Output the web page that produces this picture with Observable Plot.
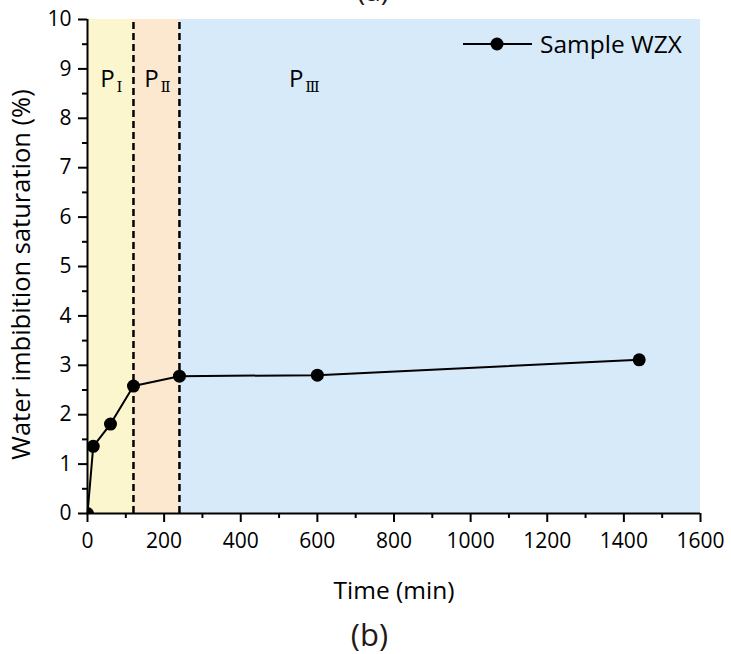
<!DOCTYPE html>
<html>
<head>
<meta charset="utf-8">
<script src="https://cdn.jsdelivr.net/npm/d3@7"></script>
<script src="https://cdn.jsdelivr.net/npm/@observablehq/plot@0.6"></script>
<style>
  html, body { margin: 0; padding: 0; background: #fff; }
  #wrap { position: relative; width: 731px; height: 654px; overflow: hidden; font-family: "Open Sans", sans-serif; }
  #caption { position: absolute; left: 0; top: 612px; width: 731px; text-align: center; font-size: 31px; line-height: 44px; padding-left: 8px; box-sizing: border-box; color: #231815; }
  #overlay { position: absolute; left: 0; top: 0; }
</style>
</head>
<body>
<div id="wrap"></div>
<script>
// ---- data ----
const time = [0, 15, 60, 120, 240, 600, 1440];
const saturation = [0, 1.36, 1.81, 2.58, 2.78, 2.80, 3.11];
const seriesName = "Sample WZX";
const stageNames = ["Ⅰ", "Ⅱ", "Ⅲ"];
const stageStart = [0, 120, 240];
const stageEnd = [120, 240, 1600];
const stageColors = ["#fbf6cd", "#fbe8cf", "#d6eafa"];
const stageLabelX = [52, 167, 545];
const boundaries = [120, 240];
const xTicks = [0, 200, 400, 600, 800, 1000, 1200, 1400, 1600];
const xMinor = [100, 300, 500, 700, 900, 1100, 1300, 1500];
const yTicks = [0, 1, 2, 3, 4, 5, 6, 7, 8, 9, 10];
const yMinor = [0.5, 1.5, 2.5, 3.5, 4.5, 5.5, 6.5, 7.5, 8.5, 9.5];

const points = time.map((t, i) => ({t, s: saturation[i]}));
const stages = stageNames.map((n, i) => ({n, x1: stageStart[i], x2: stageEnd[i], c: stageColors[i], lx: stageLabelX[i]}));
const fmt = d3.format("d");

const chart = Plot.plot({
  width: 731,
  height: 612,
  marginTop: 19,
  marginBottom: 99,
  marginLeft: 87,
  marginRight: 31,
  style: {fontFamily: "Open Sans, sans-serif", fontSize: "21px", color: "#000", background: "transparent"},
  x: {domain: [0, 1600]},
  y: {domain: [0, 10]},
  marks: [
    Plot.rect(stages, {x1: "x1", x2: "x2", y1: 0, y2: 10, fill: "c"}),
    Plot.ruleX(boundaries, {y1: 0, y2: 9.95, stroke: "#000", strokeWidth: 2.5, strokeDasharray: "7,4"}),
    Plot.text(stages, {x: "lx", y: 8.78, text: () => "P", fontSize: 24, fill: "#000"}),
    Plot.text(stages, {x: "lx", y: 8.78, text: "n", fontSize: 15, fontFamily: "DejaVu Serif", textAnchor: "start", dx: 9, dy: 7, fill: "#000"}),
    Plot.line(points, {x: "t", y: "s", stroke: "#000", strokeWidth: 2}),
    Plot.dot(points, {x: "t", y: "s", r: 6.5, fill: "#000", clip: true}),
    Plot.axisX({ticks: xTicks, tickFormat: fmt, tickSize: 9, tickPadding: 11, strokeWidth: 2, fontSize: 21, label: "Time (min)", labelAnchor: "center", labelOffset: 85, labelArrow: "none"}),
    Plot.axisX({ticks: xMinor, tickSize: 5, strokeWidth: 2, text: null, label: null}),
    Plot.axisY({ticks: yTicks, tickFormat: fmt, tickSize: 9, tickPadding: 7, strokeWidth: 2, fontSize: 21, label: "Water imbibition saturation (%)", labelAnchor: "center", labelOffset: 76, labelArrow: "none"}),
    Plot.axisY({ticks: yMinor, tickSize: 5, strokeWidth: 2, text: null, label: null}),
    Plot.ruleX([0], {y1: 0, y2: 10, stroke: "#000", strokeWidth: 2}),
    Plot.ruleY([0], {x1: 0, x2: 1600, stroke: "#000", strokeWidth: 2})
  ]
});
// axis label sizes
chart.querySelectorAll("g[aria-label='x-axis label'] text").forEach(t => t.setAttribute("font-size", "24.5"));
chart.querySelectorAll("g[aria-label='y-axis label'] text").forEach(t => { t.setAttribute("font-size", "25.5"); t.setAttribute("dx", "-8"); });

const wrap = document.getElementById("wrap");
wrap.appendChild(chart);

// partial title of the panel above and legend
const ns = "http://www.w3.org/2000/svg";
const ov = document.createElementNS(ns, "svg");
ov.setAttribute("id", "overlay");
ov.setAttribute("width", 731);
ov.setAttribute("height", 70);
ov.innerHTML = `
  <text x="373" y="1" text-anchor="middle" font-size="28" fill="#231815" font-family="Open Sans">(a)</text>
  <line x1="463" x2="532" y1="44" y2="44" stroke="#000" stroke-width="2"/>
  <circle cx="497" cy="44" r="6.5" fill="#000"/>
  <text x="540" y="44" dy="0.35em" font-size="24.5" fill="#000" font-family="Open Sans">${seriesName}</text>`;
wrap.appendChild(ov);

const cap = document.createElement("div");
cap.id = "caption";
cap.textContent = "(b)";
wrap.appendChild(cap);
</script>
</body>
</html>
